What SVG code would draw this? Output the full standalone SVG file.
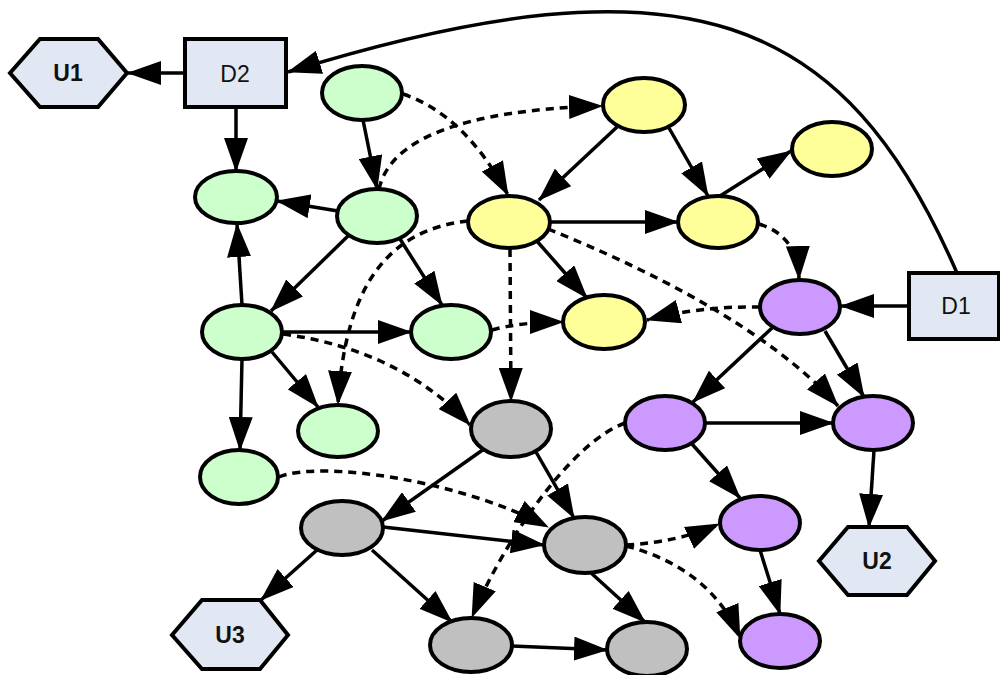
<svg xmlns="http://www.w3.org/2000/svg" width="1000" height="675" viewBox="0 0 1000 675">
<style>
.n{stroke:#000;stroke-width:4}
.g{fill:#ccffcc}.y{fill:#ffff99}.p{fill:#cc99ff}.r{fill:#c0c0c0}.b{fill:#e1e8f4}
.e{fill:none;stroke:#000;stroke-width:3.5;marker-end:url(#arr)}
.d{stroke-dasharray:8 6}
.lb{font-family:"Liberation Sans",Arial,sans-serif;font-size:23px;text-anchor:middle;fill:#111}
.bd{font-weight:bold}
</style>
<defs>
<marker id="arr" viewBox="0 0 34 24" refX="33" refY="12" markerWidth="34" markerHeight="24" markerUnits="userSpaceOnUse" orient="auto">
<path d="M0,0 L34,12 L0,24 z" fill="#000"/>
</marker>
</defs>
<rect width="1000" height="675" fill="#fff"/>
<g id="connectors">
<path class="e" d="M185,73 L128,73"/>
<path class="e" d="M236,107 L236,171"/>
<path class="e" d="M957,273 C845,15 689,-52 288,72"/>
<path class="e" d="M363,120 L377,189"/>
<path class="e" d="M338,211 L277,201"/>
<path class="e" d="M348,236 L271,311"/>
<path class="e" d="M400,239 L442,305"/>
<path class="e" d="M242,305 L237,224"/>
<path class="e" d="M282,332 L411,332"/>
<path class="e" d="M272,352 L318,407"/>
<path class="e" d="M242,359 L240,450"/>
<path class="e" d="M617,127 L539,200"/>
<path class="e" d="M669,128 L708,196"/>
<path class="e" d="M720,196 L791,151"/>
<path class="e" d="M550,222 L678,222"/>
<path class="e" d="M536,240 L587,298"/>
<path class="e" d="M909,306 L841,306"/>
<path class="e" d="M772,328 L693,402"/>
<path class="e" d="M825,331 L864,397"/>
<path class="e" d="M706,423 L833,423"/>
<path class="e" d="M692,444 L740,498"/>
<path class="e" d="M874,450 L869,527"/>
<path class="e" d="M760,550 L780,614"/>
<path class="e" d="M484,449 L382,521"/>
<path class="e" d="M536,452 L574,518"/>
<path class="e" d="M383,527 L544,545"/>
<path class="e" d="M317,550 L261,600"/>
<path class="e" d="M372,550 L452,622"/>
<path class="e" d="M590,572 L645,622"/>
<path class="e" d="M512,646 L607,650"/>
<path class="e d" d="M403,94 Q465,115 508,195"/>
<path class="e d" d="M379,189 C390,140 460,110 602,106"/>
<path class="e d" d="M468,221 C385,230 345,290 338,404"/>
<path class="e d" d="M492,330 Q520,322 563,322"/>
<path class="e d" d="M510,249 L511,401"/>
<path class="e d" d="M283,334 Q400,350 470,425"/>
<path class="e d" d="M548,229 C650,270 770,330 838,406"/>
<path class="e d" d="M759,224 C785,232 798,250 799,279"/>
<path class="e d" d="M760,307 Q700,306 647,320"/>
<path class="e d" d="M279,477 C320,460 460,480 548,527"/>
<path class="e d" d="M625,423 C570,443 503,543 472,617"/>
<path class="e d" d="M626,545 Q680,542 719,524"/>
<path class="e d" d="M626,546 C680,560 720,590 740,638"/>
</g>
<g id="U1"><polygon class="n b" points="10,73 40,39 98,39 127,73 98,107 40,107"/><text class="lb bd" x="68" y="81">U1</text></g>
<g id="D2"><rect class="n b" x="185" y="39" width="101" height="68"/><text class="lb" x="235" y="82">D2</text></g>
<g id="D1"><rect class="n b" x="909" y="273" width="90" height="66"/><text class="lb" x="956" y="314">D1</text></g>
<g id="U2"><polygon class="n b" points="819,561 848,527 907,527 935,561 907,595 848,595"/><text class="lb bd" x="877" y="569">U2</text></g>
<g id="U3"><polygon class="n b" points="172,635 202,600 260,600 288,635 260,669 202,669"/><text class="lb bd" x="230" y="643">U3</text></g>
<g id="G1"><ellipse class="n g" cx="362" cy="93" rx="40" ry="27"/></g>
<g id="G2"><ellipse class="n g" cx="236" cy="197" rx="41" ry="26"/></g>
<g id="G3"><ellipse class="n g" cx="377" cy="216" rx="40" ry="27"/></g>
<g id="G4"><ellipse class="n g" cx="242" cy="332" rx="40" ry="27"/></g>
<g id="G5"><ellipse class="n g" cx="451" cy="332" rx="40" ry="27"/></g>
<g id="G6"><ellipse class="n g" cx="338" cy="431" rx="40" ry="26"/></g>
<g id="G7"><ellipse class="n g" cx="239" cy="477" rx="39" ry="27"/></g>
<g id="Y1"><ellipse class="n y" cx="644" cy="105" rx="41" ry="27"/></g>
<g id="Y2"><ellipse class="n y" cx="832" cy="149" rx="40" ry="27"/></g>
<g id="Y3"><ellipse class="n y" cx="509" cy="222" rx="41" ry="26"/></g>
<g id="Y4"><ellipse class="n y" cx="718" cy="222" rx="40" ry="26"/></g>
<g id="Y5"><ellipse class="n y" cx="604" cy="322" rx="41" ry="27"/></g>
<g id="P1"><ellipse class="n p" cx="800" cy="307" rx="40" ry="27"/></g>
<g id="P2"><ellipse class="n p" cx="665" cy="423" rx="40" ry="27"/></g>
<g id="P3"><ellipse class="n p" cx="873" cy="423" rx="40" ry="27"/></g>
<g id="P4"><ellipse class="n p" cx="760" cy="523" rx="40" ry="27"/></g>
<g id="P5"><ellipse class="n p" cx="780" cy="641" rx="40" ry="27"/></g>
<g id="R1"><ellipse class="n r" cx="511" cy="429" rx="40" ry="28"/></g>
<g id="R2"><ellipse class="n r" cx="342" cy="528" rx="41" ry="27"/></g>
<g id="R3"><ellipse class="n r" cx="585" cy="545" rx="41" ry="28"/></g>
<g id="R4"><ellipse class="n r" cx="471" cy="645" rx="41" ry="27"/></g>
<g id="R5"><ellipse class="n r" cx="647" cy="649" rx="40" ry="27"/></g>
</svg>
